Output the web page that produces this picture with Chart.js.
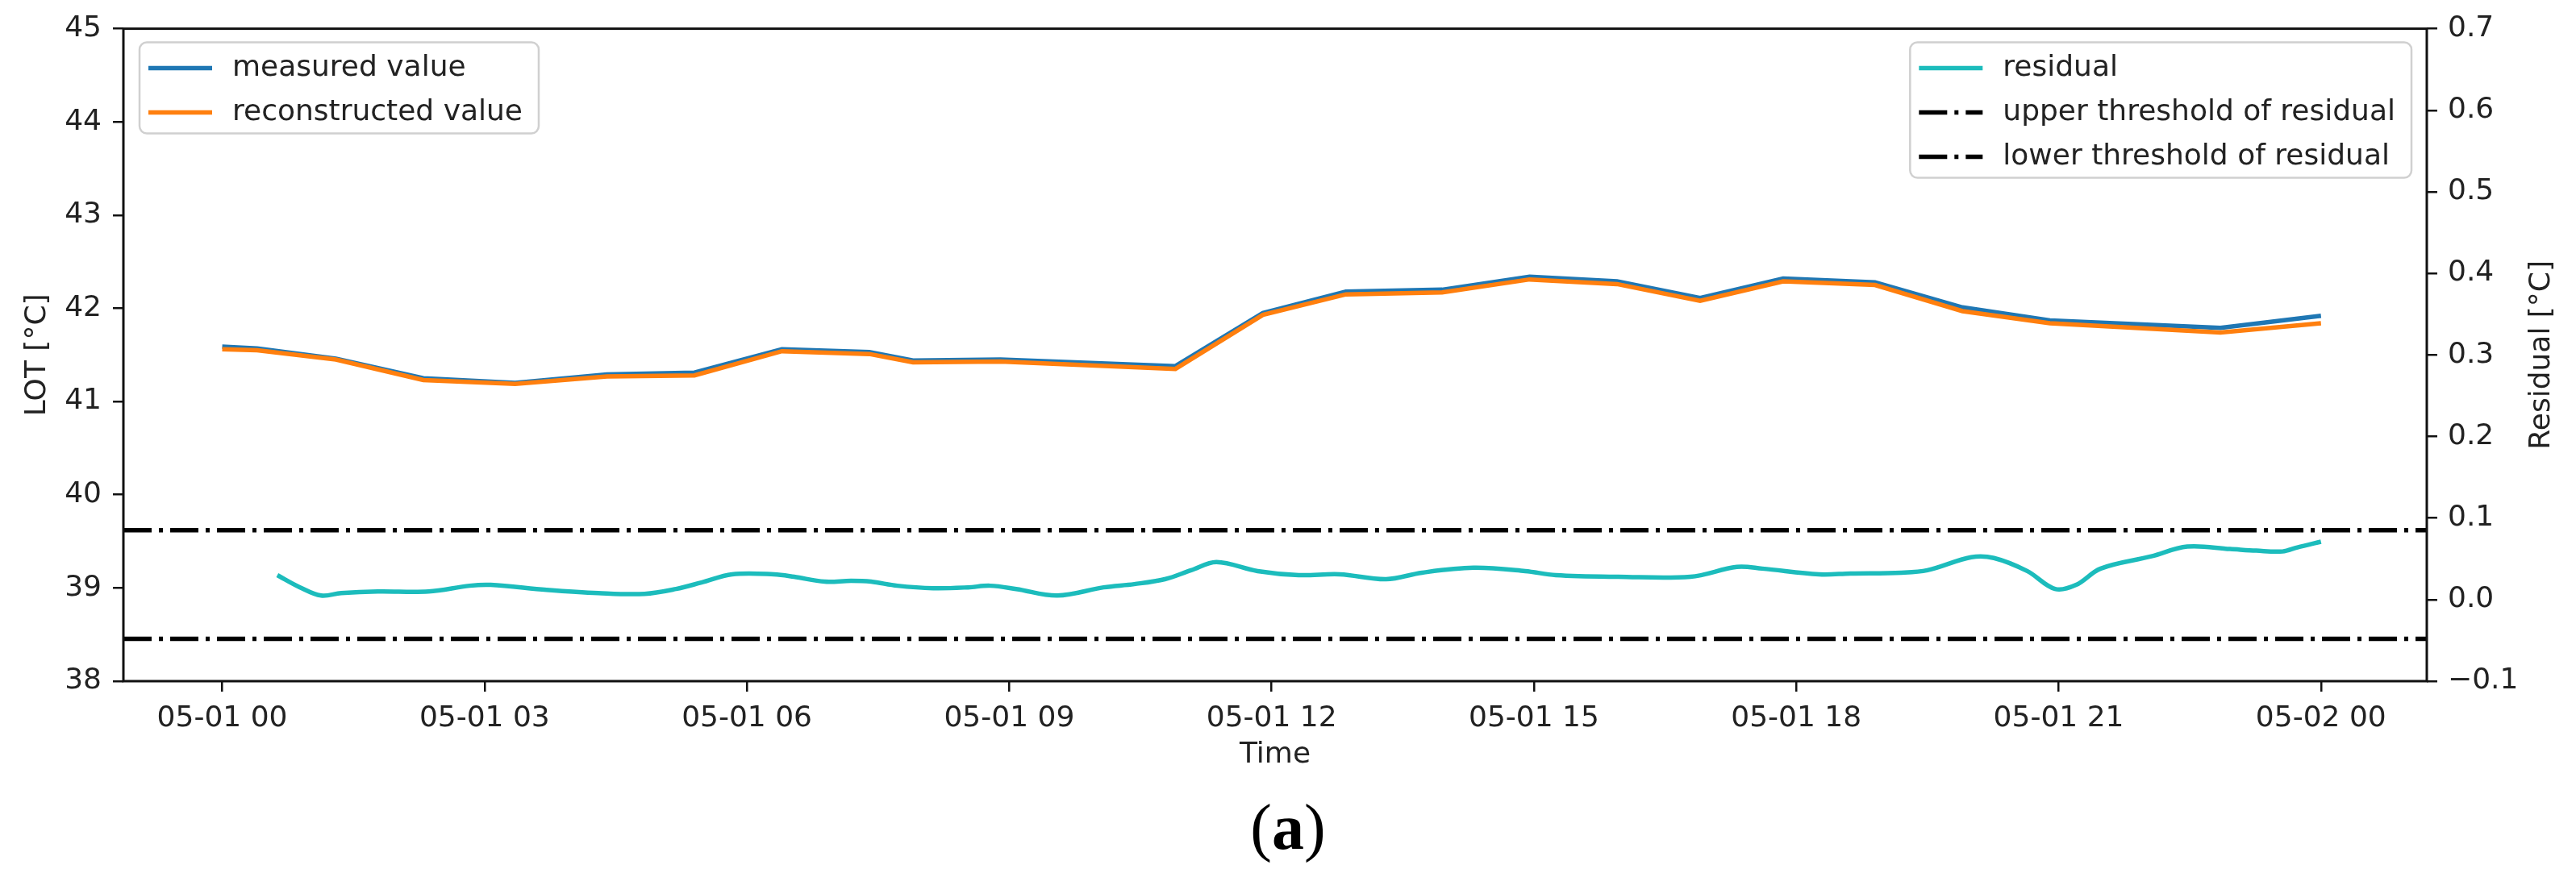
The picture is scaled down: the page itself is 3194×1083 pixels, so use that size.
<!DOCTYPE html>
<html lang="en">
<head>
<meta charset="UTF-8">
<title>LOT measured / reconstructed and residual</title>
<script src="https://cdn.jsdelivr.net/npm/chart.js"></script>
<style>
  html, body { margin: 0; padding: 0; background: #ffffff; }
  canvas { display: block; }
</style>
</head>
<body>
<canvas id="lotChart" width="3194" height="1083"></canvas>
<script>
// hours after 05-01 00:00
const measuredHours = [0.0, 0.4, 1.3, 2.3, 3.35, 4.4, 5.4, 6.4, 7.4, 7.9, 8.9, 10.9, 11.9, 12.85, 13.95, 14.95, 15.95, 16.9, 17.85, 18.9, 19.9, 20.9, 22.85, 24.0];
const measuredValues = [41.59, 41.57, 41.46, 41.25, 41.20, 41.29, 41.31, 41.56, 41.53, 41.44, 41.45, 41.38, 41.95, 42.18, 42.20, 42.34, 42.29, 42.11, 42.32, 42.28, 42.01, 41.87, 41.79, 41.92];
const reconstructedValues = [41.56, 41.55, 41.45, 41.23, 41.19, 41.27, 41.28, 41.54, 41.51, 41.42, 41.43, 41.35, 41.93, 42.15, 42.17, 42.31, 42.26, 42.08, 42.29, 42.25, 41.97, 41.84, 41.74, 41.84];

const residualHours = [0.63, 0.89, 1.13, 1.36, 1.78, 2.36, 2.83, 3.07, 3.71, 4.30, 4.83, 5.19, 5.48, 5.83, 6.31, 6.54, 6.89, 7.19, 7.42, 7.72, 8.13, 8.53, 8.78, 9.08, 9.55, 10.08, 10.43, 10.78, 11.08, 11.37, 11.84, 12.31, 12.78, 13.31, 13.72, 14.31, 14.90, 15.25, 15.96, 16.79, 17.32, 17.61, 18.26, 18.62, 19.2, 19.5, 20.0, 20.26, 20.64, 20.96, 21.2, 21.48, 22.06, 22.47, 22.96, 23.26, 23.56, 23.73, 24.0];
const residualValues = [0.030, 0.015, 0.005, 0.008, 0.010, 0.010, 0.017, 0.018, 0.012, 0.008, 0.007, 0.013, 0.021, 0.031, 0.031, 0.028, 0.022, 0.023, 0.022, 0.017, 0.014, 0.015, 0.017, 0.013, 0.005, 0.015, 0.019, 0.025, 0.036, 0.046, 0.035, 0.030, 0.031, 0.025, 0.033, 0.039, 0.035, 0.030, 0.028, 0.028, 0.040, 0.038, 0.031, 0.032, 0.033, 0.036, 0.052, 0.051, 0.035, 0.013, 0.018, 0.038, 0.053, 0.065, 0.062, 0.060, 0.059, 0.064, 0.071];

const upperThreshold = 0.085;
const lowerThreshold = -0.048;

const xTicks = [0, 3, 6, 9, 12, 15, 18, 21, 24];
const leftTicks = [38, 39, 40, 41, 42, 43, 44, 45];
const rightTicks = [-0.1, 0.0, 0.1, 0.2, 0.3, 0.4, 0.5, 0.6, 0.7];
const xMin = -1.13, xMax = 25.21;

const font = { family: "'DejaVu Sans', sans-serif", size: 36 };
const textColor = '#222222';
const dashDot = [35, 9, 5, 9];

function timeLabel(h) {
  const day = h >= 24 ? '05-02' : '05-01';
  const hh = String(h % 24).padStart(2, '0');
  return day + ' ' + hh;
}

function residualLabel(v) {
  if (Math.abs(v) < 1e-9) return '0.0';
  return v < 0 ? '\u2212' + Math.abs(v).toFixed(1) : v.toFixed(1);
}

const tickGrid = { drawOnChartArea: false, drawTicks: true, tickLength: 13, color: '#111111', lineWidth: 2.5 };

// frame, both legends, right axis title and the caption
const extras = {
  id: 'extras',
  afterDraw(chart) {
    const { ctx, chartArea: a } = chart;
    const ds = chart.data.datasets;
    ctx.save();
    ctx.strokeStyle = '#111111';
    ctx.lineWidth = 3;
    ctx.setLineDash([]);
    ctx.strokeRect(a.left, a.top, a.right - a.left, a.bottom - a.top);

    ctx.font = font.size + 'px ' + font.family;
    drawLegend(ctx, [ds[0], ds[1]], a.left + 20, a.top + 17, false);
    drawLegend(ctx, [ds[2], ds[3], ds[4]], a.right - 19, a.top + 17, true);

    // right y title, reading upwards
    ctx.save();
    ctx.translate(3152, (a.top + a.bottom) / 2);
    ctx.rotate(-Math.PI / 2);
    ctx.fillStyle = textColor;
    ctx.textAlign = 'center';
    ctx.textBaseline = 'middle';
    ctx.font = font.size + 'px ' + font.family;
    ctx.fillText('Residual [°C]', 0, 0);
    ctx.restore();

    // caption (a)
    const regular = "80px 'Liberation Serif', 'DejaVu Serif', serif";
    const bold = "bold 80px 'Liberation Serif', 'DejaVu Serif', serif";
    ctx.fillStyle = '#000000';
    ctx.textBaseline = 'alphabetic';
    ctx.textAlign = 'left';
    ctx.font = regular;
    const wp = ctx.measureText('(').width;
    ctx.font = bold;
    const wa = ctx.measureText('a').width;
    let x = chart.width / 2 - (2 * wp + wa) / 2;
    const base = 1053;
    ctx.font = regular; ctx.fillText('(', x, base); x += wp;
    ctx.font = bold; ctx.fillText('a', x, base); x += wa;
    ctx.font = regular; ctx.fillText(')', x, base);
    ctx.restore();
  }
};

function drawLegend(ctx, items, x, y, alignRight) {
  let tw = 0;
  items.forEach(d => { tw = Math.max(tw, ctx.measureText(d.label).width); });
  const w = 115 + tw + 20;
  const h = 32 * 2 + 55 * (items.length - 1) - 6;
  const left = alignRight ? x - w : x;
  ctx.save();
  ctx.beginPath();
  ctx.roundRect(left, y, w, h, 9);
  ctx.fillStyle = 'rgba(255,255,255,0.8)';
  ctx.fill();
  ctx.strokeStyle = '#d0d0d0';
  ctx.lineWidth = 2.5;
  ctx.stroke();
  items.forEach((d, i) => {
    const cy = y + 32 + i * 55;
    ctx.beginPath();
    ctx.strokeStyle = d.borderColor;
    ctx.lineWidth = d.borderWidth;
    ctx.setLineDash(d.borderDash || []);
    ctx.moveTo(left + 11, cy);
    ctx.lineTo(left + 90, cy);
    ctx.stroke();
    ctx.setLineDash([]);
    ctx.fillStyle = textColor;
    ctx.textAlign = 'left';
    ctx.textBaseline = 'middle';
    ctx.fillText(d.label, left + 115, cy);
  });
  ctx.restore();
}

new Chart(document.getElementById('lotChart'), {
  type: 'line',
  data: {
    datasets: [
      {
        label: 'measured value',
        data: measuredHours.map((h, i) => ({ x: h, y: measuredValues[i] })),
        borderColor: '#1f77b4', borderWidth: 5.5, pointRadius: 0, tension: 0,
        yAxisID: 'y', order: 2
      },
      {
        label: 'reconstructed value',
        data: measuredHours.map((h, i) => ({ x: h, y: reconstructedValues[i] })),
        borderColor: '#ff7f0e', borderWidth: 5.5, pointRadius: 0, tension: 0,
        yAxisID: 'y', order: 1
      },
      {
        label: 'residual',
        data: residualHours.map((h, i) => ({ x: h, y: residualValues[i] })),
        borderColor: '#1cbcbc', borderWidth: 5.5, pointRadius: 0, tension: 0.35,
        yAxisID: 'y1', order: 3
      },
      {
        label: 'upper threshold of residual',
        data: [{ x: xMin, y: upperThreshold }, { x: xMax, y: upperThreshold }],
        borderColor: '#000000', borderWidth: 5.5, borderDash: dashDot, pointRadius: 0,
        yAxisID: 'y1', order: 4
      },
      {
        label: 'lower threshold of residual',
        data: [{ x: xMin, y: lowerThreshold }, { x: xMax, y: lowerThreshold }],
        borderColor: '#000000', borderWidth: 5.5, borderDash: dashDot, pointRadius: 0,
        yAxisID: 'y1', order: 5
      }
    ]
  },
  options: {
    responsive: false,
    animation: false,
    devicePixelRatio: 1,
    layout: { padding: { top: 33, left: 0, right: 0, bottom: 0 } },
    plugins: { legend: { display: false }, tooltip: { enabled: false } },
    scales: {
      x: {
        type: 'linear', min: xMin, max: xMax,
        afterBuildTicks: s => { s.ticks = xTicks.map(v => ({ value: v })); },
        afterFit: s => { s.height = 238; },
        ticks: { callback: v => timeLabel(v), font: font, color: textColor, padding: 12, maxRotation: 0, autoSkip: false },
        grid: tickGrid,
        border: { display: false },
        title: { display: true, text: 'Time', font: font, color: textColor, padding: { top: 0, bottom: 125 } }
      },
      y: {
        position: 'left', min: 38, max: 45,
        afterBuildTicks: s => { s.ticks = leftTicks.map(v => ({ value: v })); },
        afterFit: s => { s.width = 153; },
        ticks: { font: font, color: textColor, padding: 14 },
        grid: tickGrid,
        border: { display: false },
        title: { display: true, text: 'LOT [°C]', font: font, color: textColor, padding: { top: 25, bottom: 0 } }
      },
      y1: {
        position: 'right', min: -0.1, max: 0.7,
        afterBuildTicks: s => { s.ticks = rightTicks.map(v => ({ value: v })); },
        afterFit: s => { s.width = 185; },
        ticks: { callback: v => residualLabel(v), font: font, color: textColor, padding: 13 },
        grid: tickGrid,
        border: { display: false }
      }
    }
  },
  plugins: [extras]
});
</script>
</body>
</html>
